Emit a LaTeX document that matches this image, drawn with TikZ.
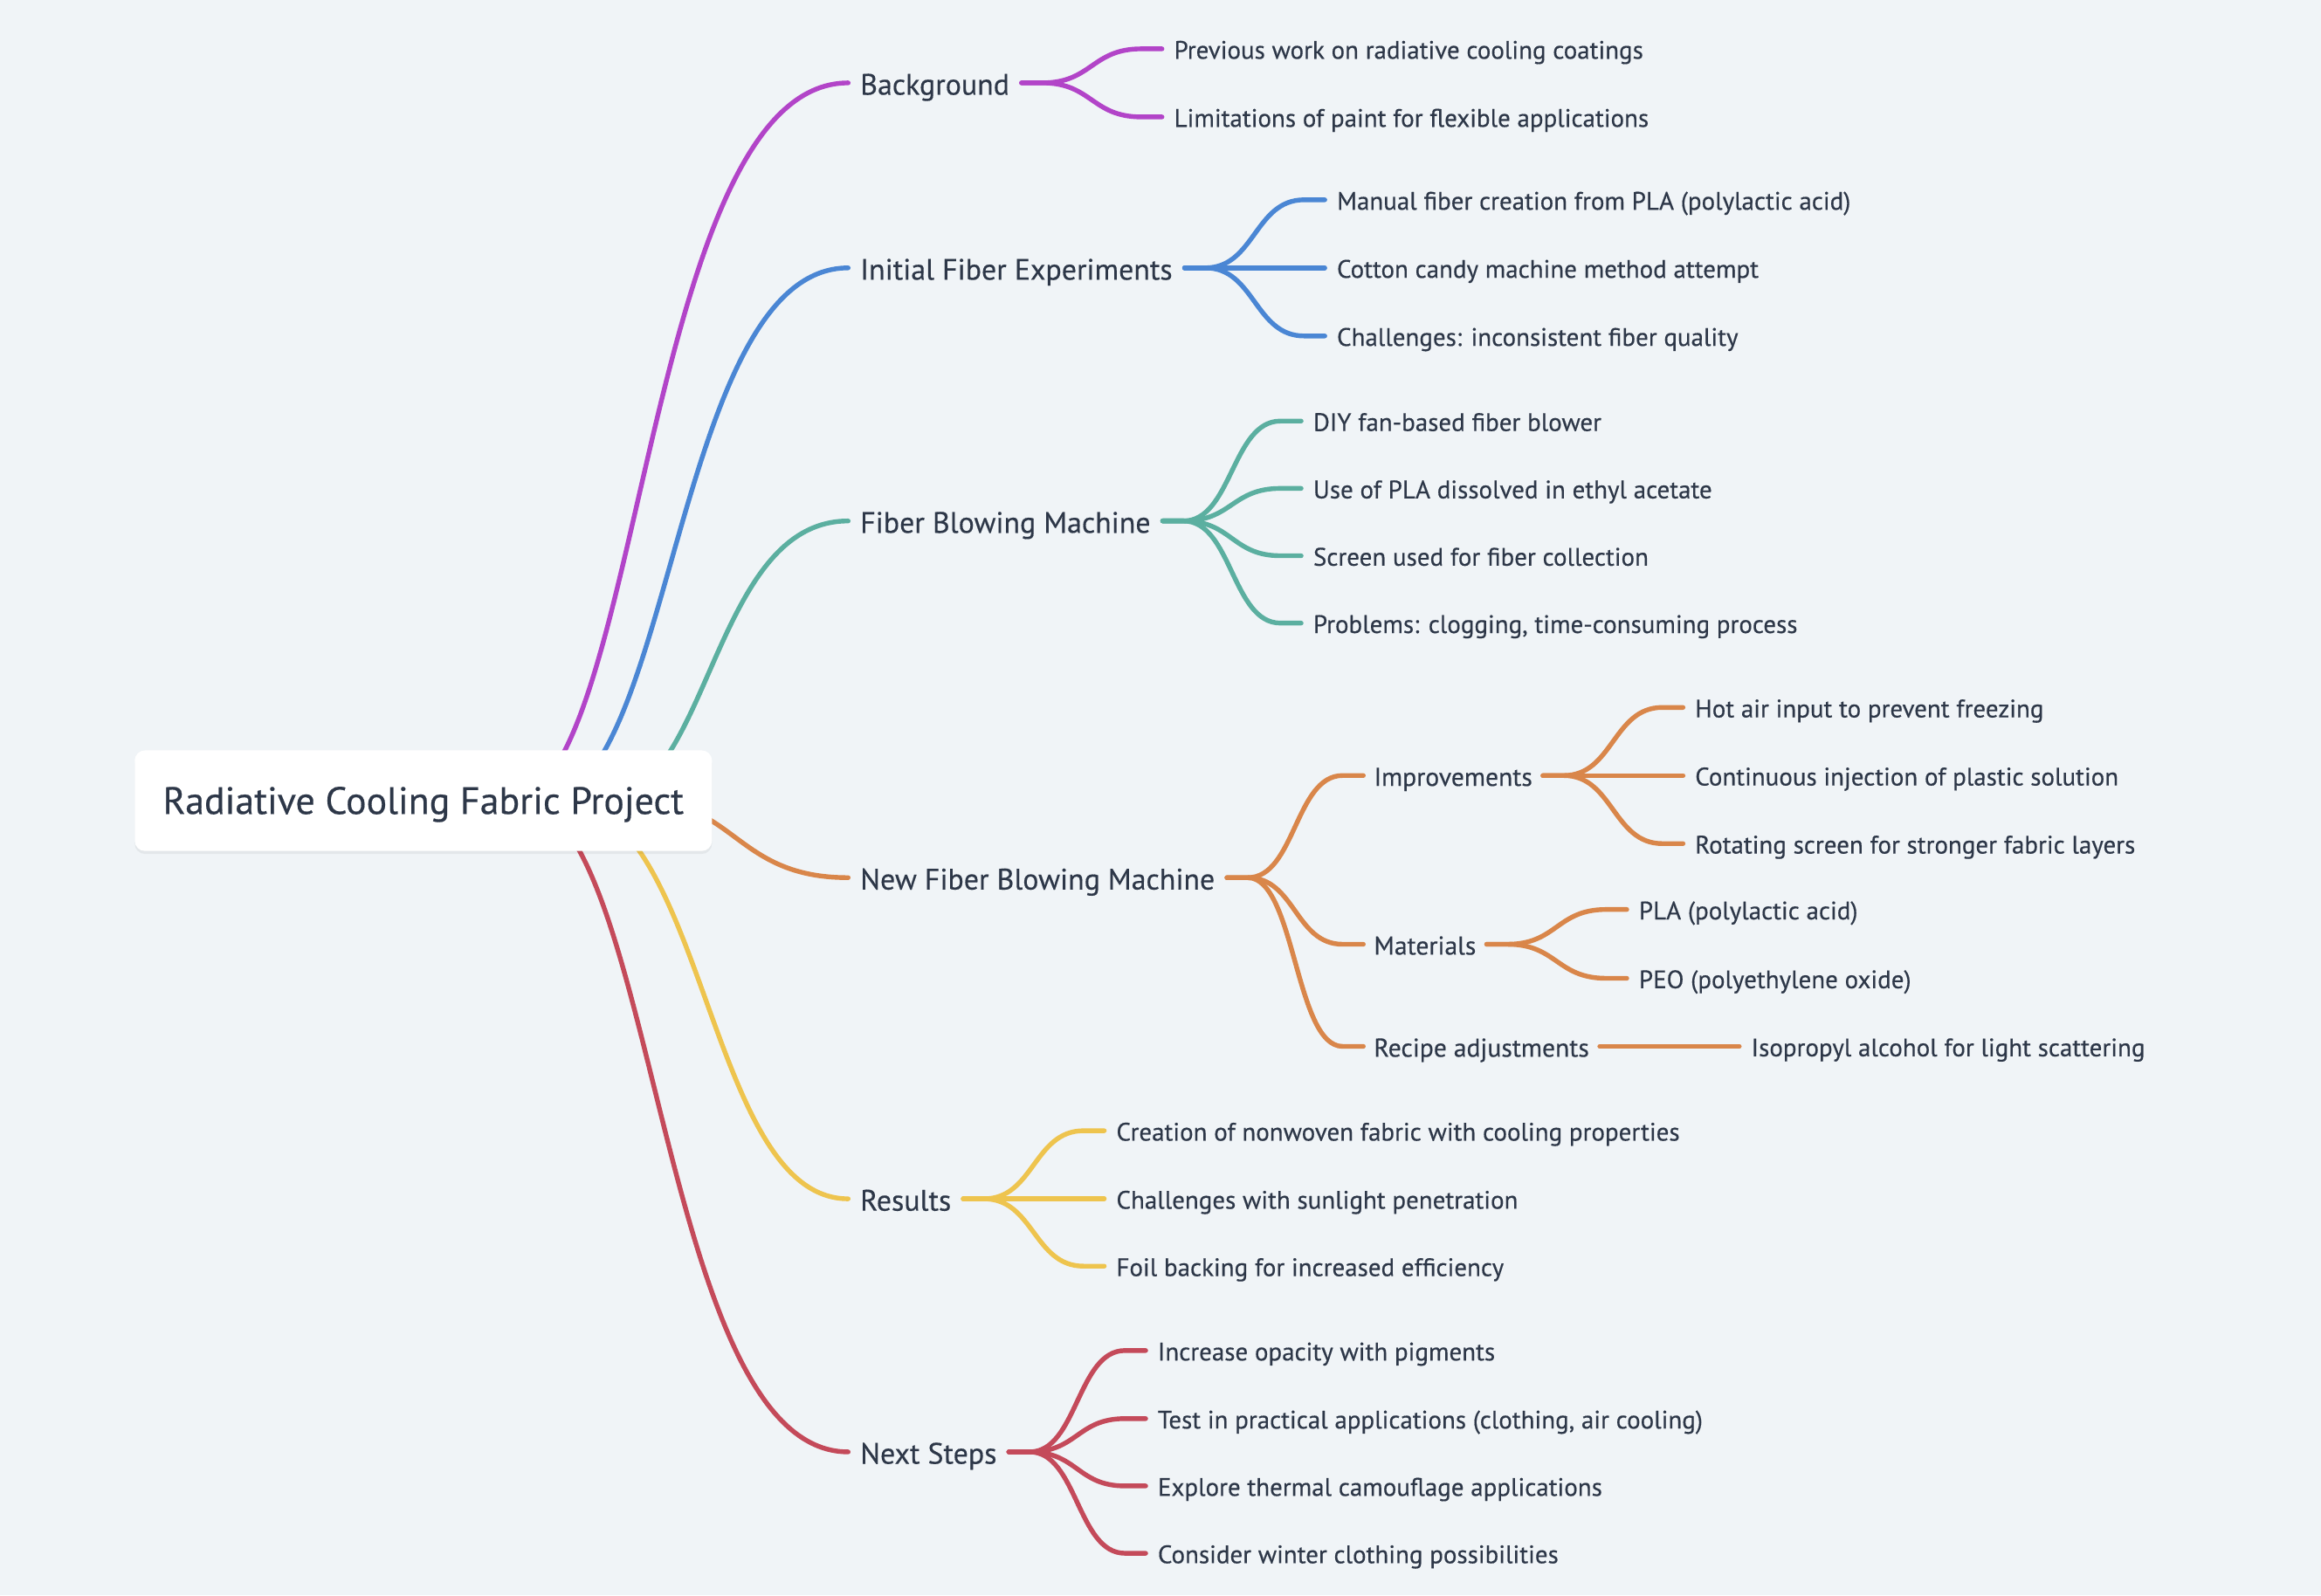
\documentclass[tikz,border=0pt]{standalone}
\usepackage{fontspec}
\setmainfont{PT Sans}
\newfontfamily\mapfont{PT Sans}[FakeBold=0.35]
\usetikzlibrary{calc,shadows}
\definecolor{bgc}{RGB}{240,244,247}
\definecolor{ink}{RGB}{45,55,72}
\definecolor{cpur}{RGB}{178,68,200}
\definecolor{cblu}{RGB}{74,134,212}
\definecolor{ctea}{RGB}{91,175,160}
\definecolor{cora}{RGB}{217,134,74}
\definecolor{cyel}{RGB}{238,196,78}
\definecolor{cred}{RGB}{196,74,90}
\pgfdeclarelayer{back}
\pgfdeclarelayer{links}
\pgfsetlayers{back,links,main}
\tikzset{
  rootbox/.style={fill=white, rounded corners=7pt, minimum width=390pt, minimum height=68pt,
    text height=18pt, text depth=0pt,
    font=\mapfont\fontsize{25.9}{30}\selectfont, text=ink,
    drop shadow={shadow xshift=0pt, shadow yshift=-2pt, opacity=0.05, fill=black}},
  lvone/.style={anchor=west, inner xsep=8pt, inner ysep=2pt, text height=16pt, text depth=0pt,
    font=\mapfont\fontsize{20}{24}\selectfont, text=ink},
  lvtwo/.style={anchor=west, inner xsep=7pt, inner ysep=2pt, text height=14pt, text depth=0pt,
    font=\mapfont\fontsize{17.5}{21}\selectfont, text=ink},
  leaf/.style={anchor=west, inner xsep=8pt, inner ysep=2pt, text height=13.4pt, text depth=0pt,
    font=\mapfont\fontsize{17.1}{21}\selectfont, text=ink},
  link/.style={line width=3.2pt, line cap=round, line join=round},
}
% root connector: colour, source shift, control shift, target
\newcommand\rootlink[4]{%
  \draw[link,#1] let \p1=([xshift=#2]root.center), \p3=([xshift=#3]root.center), \p2=(#4.west) in
    (\p1) .. controls (\x3,\y1) and (\x3,\y2) .. (\p2);}
% branch connector: colour, parent, child
\newcommand\sublink[3]{%
  \draw[link,#1] let \p1=(#2.east), \p2=(#3.west) in
    (\p1) -- (\x1+14pt,\y1) .. controls ({(\x1+\x2)/2},\y1) and ({(\x1+\x2)/2},\y2) .. (\x2-14pt,\y2) -- (\p2);}
\begin{document}
\begin{tikzpicture}[x=1pt,y=-1pt]
\useasboundingbox (0,0) rectangle (1568,1078);
\begin{pgfonlayer}{back}
\fill[bgc] (0,0) rectangle (1568,1078);
\end{pgfonlayer}

\node[rootbox] (root) at (286,541) {Radiative Cooling Fabric Project};

\node[lvone] (bg)  at (573,56)  {Background};
\node[lvone] (ife) at (573,181) {Initial Fiber Experiments};
\node[lvone] (fbm) at (573,352) {Fiber Blowing Machine};
\node[lvone] (nfb) at (573,593) {New Fiber Blowing Machine};
\node[lvone] (res) at (573,810) {Results};
\node[lvone] (nxt) at (573,981) {Next Steps};

\node[leaf] (bg1) at (785,33) {Previous work on radiative cooling coatings};
\node[leaf] (bg2) at (785,79) {Limitations of paint for flexible applications};

\node[leaf] (ife1) at (895,135) {Manual fiber creation from PLA (polylactic acid)};
\node[leaf] (ife2) at (895,181) {Cotton candy machine method attempt};
\node[leaf] (ife3) at (895,227) {Challenges: inconsistent fiber quality};

\node[leaf] (fbm1) at (879,284.5) {DIY fan-based fiber blower};
\node[leaf] (fbm2) at (879,330)   {Use of PLA dissolved in ethyl acetate};
\node[leaf] (fbm3) at (879,375.5) {Screen used for fiber collection};
\node[leaf] (fbm4) at (879,421)   {Problems: clogging, time-consuming process};

\node[lvtwo] (imp) at (921,524) {Improvements};
\node[lvtwo] (mat) at (921,638) {Materials};
\node[lvtwo] (rec) at (921,707) {Recipe adjustments};

\node[leaf] (imp1) at (1137,478) {Hot air input to prevent freezing};
\node[leaf] (imp2) at (1137,524) {Continuous injection of plastic solution};
\node[leaf] (imp3) at (1137,570) {Rotating screen for stronger fabric layers};

\node[leaf] (mat1) at (1099,614.5) {PLA (polylactic acid)};
\node[leaf] (mat2) at (1099,661)   {PEO (polyethylene oxide)};

\node[leaf] (rec1) at (1175,707) {Isopropyl alcohol for light scattering};

\node[leaf] (res1) at (746,764)   {Creation of nonwoven fabric with cooling properties};
\node[leaf] (res2) at (746,810)   {Challenges with sunlight penetration};
\node[leaf] (res3) at (746,855.5) {Foil backing for increased efficiency};

\node[leaf] (nxt1) at (774,912.5)  {Increase opacity with pigments};
\node[leaf] (nxt2) at (774,958.5)  {Test in practical applications (clothing, air cooling)};
\node[leaf] (nxt3) at (774,1004)   {Explore thermal camouflage applications};
\node[leaf] (nxt4) at (774,1049.5) {Consider winter clothing possibilities};

\begin{pgfonlayer}{links}
\rootlink{cpur}{58pt}{148pt}{bg}
\rootlink{cblu}{80pt}{169pt}{ife}
\rootlink{ctea}{120pt}{194pt}{fbm}
\rootlink{cora}{146pt}{211pt}{nfb}
\rootlink{cyel}{93pt}{191pt}{res}
\rootlink{cred}{65pt}{158pt}{nxt}

\sublink{cpur}{bg}{bg1}
\sublink{cpur}{bg}{bg2}
\sublink{cblu}{ife}{ife1}
\sublink{cblu}{ife}{ife2}
\sublink{cblu}{ife}{ife3}
\sublink{ctea}{fbm}{fbm1}
\sublink{ctea}{fbm}{fbm2}
\sublink{ctea}{fbm}{fbm3}
\sublink{ctea}{fbm}{fbm4}
\sublink{cora}{nfb}{imp}
\sublink{cora}{nfb}{mat}
\sublink{cora}{nfb}{rec}
\sublink{cora}{imp}{imp1}
\sublink{cora}{imp}{imp2}
\sublink{cora}{imp}{imp3}
\sublink{cora}{mat}{mat1}
\sublink{cora}{mat}{mat2}
\sublink{cora}{rec}{rec1}
\sublink{cyel}{res}{res1}
\sublink{cyel}{res}{res2}
\sublink{cyel}{res}{res3}
\sublink{cred}{nxt}{nxt1}
\sublink{cred}{nxt}{nxt2}
\sublink{cred}{nxt}{nxt3}
\sublink{cred}{nxt}{nxt4}
\end{pgfonlayer}
\end{tikzpicture}
\end{document}
